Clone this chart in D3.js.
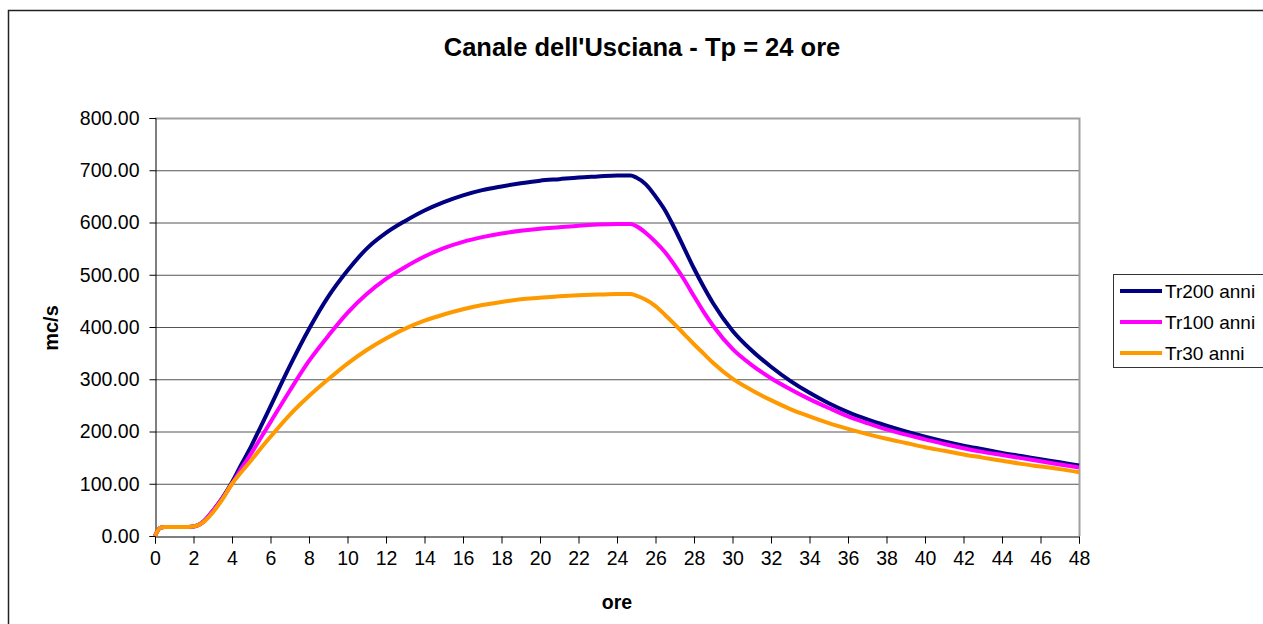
<!DOCTYPE html>
<html>
<head>
<meta charset="utf-8">
<script src="https://cdn.jsdelivr.net/npm/d3@7"></script>
<style>
  html, body { margin: 0; padding: 0; background: #fff; }
  svg { display: block; font-family: Arial, "Liberation Sans", sans-serif; }
  .tick text { font-size: 19.5px; fill: #000; }
</style>
</head>
<body>
<svg id="chart" width="1263" height="624"></svg>
<script>
// hours
const hours = [0, 0.25, 0.5, 1, 1.5, 2, 2.5, 3, 3.5, 4, 4.5, 5, 5.5, 6, 7, 8, 9, 10, 11, 12, 13, 14, 15, 16, 17, 18, 19, 20, 21, 22, 23, 24, 24.7,
  25, 25.5, 26, 26.5, 27, 27.5, 28, 28.5, 29, 30, 31, 32, 33, 34, 35, 36, 37, 38, 39, 40, 41, 42, 43, 44, 45, 46, 47, 48];

// discharge (mc/s) per series
const tr200 = [0, 15, 17, 17, 17, 18, 27, 48, 73, 103, 138, 172, 210, 248, 325, 396, 458, 508, 550, 580, 603, 623, 639, 652, 662, 669, 675, 680, 683, 686, 688, 690, 690,
  686, 673, 650, 623, 588, 550, 512, 477, 445, 393, 355, 324, 297, 274, 254, 237, 223, 211, 200, 190, 181, 173, 166, 159, 153, 147, 141, 135];
const tr100 = [0, 15, 17, 17, 17, 18, 27, 48, 72, 100, 130, 158, 188, 218, 278, 335, 383, 427, 463, 492, 515, 535, 551, 563, 572, 579, 584, 588, 591, 594, 596, 597, 597,
  593, 580, 563, 543, 518, 490, 459, 429, 402, 358, 327, 302, 281, 262, 245, 229, 216, 204, 194, 185, 176, 168, 161, 155, 149, 143, 137, 131];
const tr30 = [0, 15, 17, 17, 17, 18, 26, 45, 70, 100, 123, 145, 168, 190, 232, 268, 300, 330, 356, 378, 397, 412, 424, 434, 442, 448, 453, 456, 459, 461, 462, 463, 463,
  460, 452, 440, 423, 405, 386, 367, 349, 331, 301, 279, 260, 243, 229, 216, 205, 195, 186, 178, 170, 163, 156, 150, 144, 138, 133, 128, 122];

const seriesNames = ['Tr200 anni', 'Tr100 anni', 'Tr30 anni'];
const seriesColors = ['#000080', '#ff00ff', '#ff9900'];
const seriesValues = [tr200, tr100, tr30];

const xTicks = d3.range(0, 49, 2);
const yTicks = d3.range(0, 801, 100);

const svg = d3.select('#chart');

// outer chart frame (runs off the right and bottom edges)
svg.append('rect')
  .attr('x', 8.5).attr('y', 10.5)
  .attr('width', 1300).attr('height', 700)
  .attr('fill', '#fff').attr('stroke', '#222').attr('stroke-width', 1.5);

const x = d3.scaleLinear().domain([0, 48]).range([155, 1079]);
const y = d3.scaleLinear().domain([0, 800]).range([536, 118]);

// gridlines
svg.append('g')
  .selectAll('line')
  .data(yTicks.filter(d => d > 0 && d < 800))
  .join('line')
  .attr('x1', x(0)).attr('x2', x(48))
  .attr('y1', d => y(d) + 0.5).attr('y2', d => y(d) + 0.5)
  .attr('stroke', '#555').attr('stroke-width', 1);

// plot border top/right (grey)
svg.append('path')
  .attr('d', `M${x(0)},${y(800) + 0.5}H${x(48) + 0.5}V${y(0)}`)
  .attr('fill', 'none').attr('stroke', '#a0a0a0').attr('stroke-width', 2);

// axes
const xAxis = d3.axisBottom(x).tickValues(xTicks).tickSize(7).tickPadding(8).tickFormat(d3.format('d'));
svg.append('g')
  .attr('transform', `translate(0,${y(0) + 0.5})`)
  .call(xAxis)
  .call(g => g.selectAll('line,path').attr('stroke', '#000'))
  .call(g => g.selectAll('text').attr('font-family', null).attr('font-size', null));

const yAxis = d3.axisLeft(y).tickValues(yTicks).tickSize(6).tickPadding(10).tickFormat(d3.format('.2f'));
svg.append('g')
  .attr('transform', `translate(${x(0) + 0.5},0)`)
  .call(yAxis)
  .call(g => g.selectAll('line,path').attr('stroke', '#000'))
  .call(g => g.selectAll('text').attr('font-family', null).attr('font-size', null));

// series lines
const line = d3.line()
  .x((d, i) => x(hours[i]))
  .y(d => y(d))
  .curve(d3.curveMonotoneX);

svg.append('g')
  .selectAll('path')
  .data(seriesValues)
  .join('path')
  .attr('d', d => line(d))
  .attr('fill', 'none')
  .attr('stroke', (d, i) => seriesColors[i])
  .attr('stroke-width', 4)
  .attr('stroke-linejoin', 'round');

// titles
svg.append('text')
  .attr('x', 642).attr('y', 56)
  .attr('text-anchor', 'middle')
  .attr('font-weight', 'bold').attr('font-size', 25.5)
  .text("Canale dell'Usciana - Tp = 24 ore");

svg.append('text')
  .attr('x', 617).attr('y', 609)
  .attr('text-anchor', 'middle')
  .attr('font-weight', 'bold').attr('font-size', 19.5)
  .text('ore');

svg.append('text')
  .attr('transform', 'translate(58,328) rotate(-90)')
  .attr('text-anchor', 'middle')
  .attr('font-weight', 'bold').attr('font-size', 20)
  .text('mc/s');

// legend
const legend = svg.append('g');
legend.append('rect')
  .attr('x', 1113.5).attr('y', 274.5)
  .attr('width', 200).attr('height', 93)
  .attr('fill', '#fff').attr('stroke', '#333').attr('stroke-width', 1);

const items = legend.selectAll('g.item')
  .data(seriesNames)
  .join('g')
  .attr('class', 'item')
  .attr('transform', (d, i) => `translate(0,${291 + i * 31})`);

items.append('line')
  .attr('x1', 1120).attr('x2', 1162)
  .attr('stroke', (d, i) => seriesColors[i])
  .attr('stroke-width', 4);

items.append('text')
  .attr('x', 1165).attr('dy', '0.35em')
  .attr('font-size', 19)
  .text(d => d);
</script>
</body>
</html>
